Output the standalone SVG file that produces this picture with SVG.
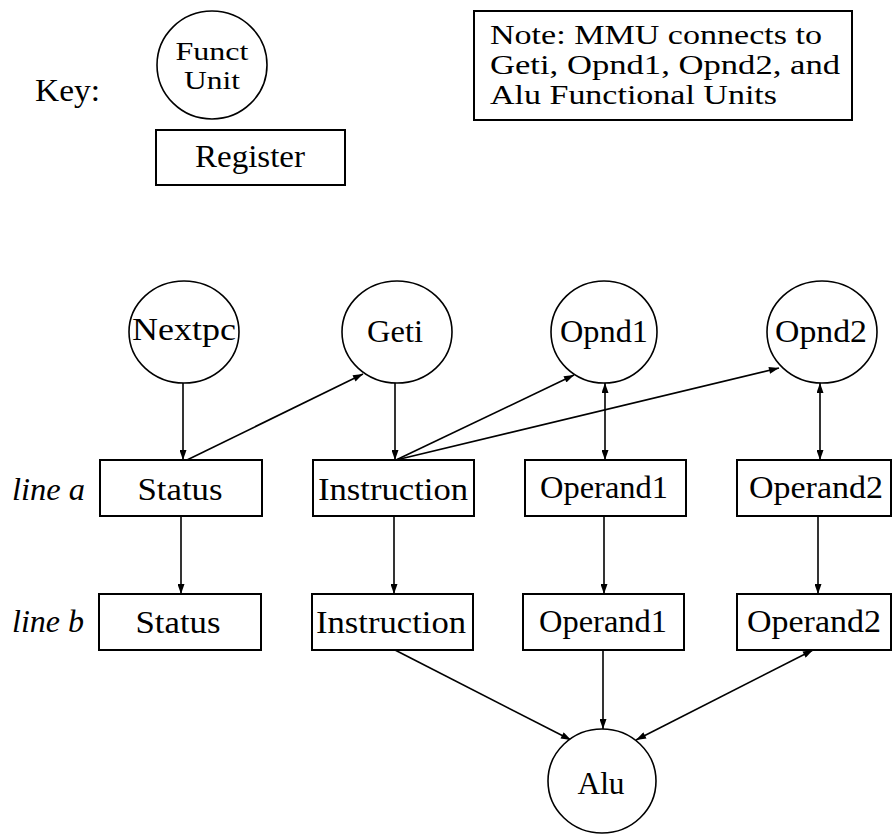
<svg xmlns="http://www.w3.org/2000/svg" width="893" height="835" viewBox="0 0 893 835">
<style>
  text { font-family: "Liberation Serif", "Times New Roman", serif; font-size: 32px; fill: #000; }
  .c { text-anchor: middle; }
  .it { font-style: italic; }
  .sm { font-size: 25px; }
  .nt { font-size: 27px; }
  .box { fill: #fff; stroke: #000; stroke-width: 2; }
  .fu { fill: #fff; stroke: #000; stroke-width: 1.6; }
  .edge { fill: none; stroke: #000; stroke-width: 1.6; }
</style>
<defs>
  <marker id="ah" viewBox="0 0 10 7" refX="10" refY="3.5" markerWidth="11" markerHeight="7" markerUnits="userSpaceOnUse" orient="auto-start-reverse">
    <path d="M0,0 L10,3.5 L0,7 z" fill="#000"/>
  </marker>
</defs>
<rect width="893" height="835" fill="#fff"/>

<g id="key">
  <text x="35" y="101" textLength="65" lengthAdjust="spacingAndGlyphs">Key:</text>
  <g id="key-funct">
    <ellipse class="fu" cx="212" cy="65" rx="55" ry="54"/>
    <text class="c sm" x="212" y="60" textLength="73" lengthAdjust="spacingAndGlyphs">Funct</text>
    <text class="c sm" x="212" y="89" textLength="56" lengthAdjust="spacingAndGlyphs">Unit</text>
  </g>
  <g id="key-register">
    <rect class="box" x="156" y="130" width="189" height="55"/>
    <text class="c" x="250" y="167" textLength="110" lengthAdjust="spacingAndGlyphs">Register</text>
  </g>
</g>

<g id="note">
  <rect class="box" x="474" y="11" width="378" height="109"/>
  <text class="nt" x="490" y="44" textLength="332" lengthAdjust="spacingAndGlyphs">Note: MMU connects to</text>
  <text class="nt" x="490" y="74" textLength="350" lengthAdjust="spacingAndGlyphs">Geti, Opnd1, Opnd2, and</text>
  <text class="nt" x="490" y="104" textLength="287" lengthAdjust="spacingAndGlyphs">Alu Functional Units</text>
</g>

<g id="row-labels">
  <text class="it" x="12" y="500" textLength="73" lengthAdjust="spacingAndGlyphs">line a</text>
  <text class="it" x="12" y="632" textLength="72" lengthAdjust="spacingAndGlyphs">line b</text>
</g>

<g id="connectors">
  <line class="edge" x1="183" y1="383" x2="183" y2="460" marker-end="url(#ah)"/>
  <line class="edge" x1="187" y1="460" x2="363" y2="374" marker-end="url(#ah)"/>
  <line class="edge" x1="395" y1="383" x2="395" y2="460" marker-end="url(#ah)"/>
  <line class="edge" x1="396" y1="460" x2="574" y2="375" marker-end="url(#ah)"/>
  <line class="edge" x1="396" y1="460" x2="779" y2="368" marker-end="url(#ah)"/>
  <line class="edge" x1="605" y1="383" x2="605" y2="460" marker-start="url(#ah)" marker-end="url(#ah)"/>
  <line class="edge" x1="820" y1="383" x2="820" y2="460" marker-start="url(#ah)" marker-end="url(#ah)"/>
  <line class="edge" x1="181" y1="516" x2="181" y2="594" marker-end="url(#ah)"/>
  <line class="edge" x1="394" y1="516" x2="394" y2="594" marker-end="url(#ah)"/>
  <line class="edge" x1="604" y1="516" x2="604" y2="594" marker-end="url(#ah)"/>
  <line class="edge" x1="818" y1="516" x2="818" y2="594" marker-end="url(#ah)"/>
  <line class="edge" x1="395" y1="650" x2="571" y2="740" marker-end="url(#ah)"/>
  <line class="edge" x1="603" y1="650" x2="603" y2="729" marker-end="url(#ah)"/>
  <line class="edge" x1="813" y1="650" x2="636" y2="740" marker-start="url(#ah)" marker-end="url(#ah)"/>
</g>

<g id="nextpc">
  <ellipse class="fu" cx="184" cy="332" rx="55" ry="51"/>
  <text class="c" x="184" y="340" textLength="104" lengthAdjust="spacingAndGlyphs">Nextpc</text>
</g>
<g id="geti">
  <ellipse class="fu" cx="397" cy="332" rx="55" ry="51"/>
  <text class="c" x="395" y="342" textLength="56" lengthAdjust="spacingAndGlyphs">Geti</text>
</g>
<g id="opnd1">
  <ellipse class="fu" cx="604" cy="332" rx="53" ry="51"/>
  <text class="c" x="604" y="342" textLength="88" lengthAdjust="spacingAndGlyphs">Opnd1</text>
</g>
<g id="opnd2">
  <ellipse class="fu" cx="822" cy="332" rx="55" ry="51"/>
  <text class="c" x="821" y="342" textLength="92" lengthAdjust="spacingAndGlyphs">Opnd2</text>
</g>

<g id="status-a">
  <rect class="box" x="100" y="460" width="162" height="56"/>
  <text class="c" x="180" y="500" textLength="85" lengthAdjust="spacingAndGlyphs">Status</text>
</g>
<g id="instruction-a">
  <rect class="box" x="313" y="460" width="161" height="56"/>
  <text class="c" x="393" y="500" textLength="150" lengthAdjust="spacingAndGlyphs">Instruction</text>
</g>
<g id="operand1-a">
  <rect class="box" x="525" y="460" width="161" height="56"/>
  <text class="c" x="604" y="498" textLength="128" lengthAdjust="spacingAndGlyphs">Operand1</text>
</g>
<g id="operand2-a">
  <rect class="box" x="737" y="460" width="154" height="56"/>
  <text class="c" x="816" y="498" textLength="134" lengthAdjust="spacingAndGlyphs">Operand2</text>
</g>

<g id="status-b">
  <rect class="box" x="99" y="594" width="162" height="56"/>
  <text class="c" x="178" y="633" textLength="85" lengthAdjust="spacingAndGlyphs">Status</text>
</g>
<g id="instruction-b">
  <rect class="box" x="312" y="594" width="161" height="56"/>
  <text class="c" x="391" y="633" textLength="150" lengthAdjust="spacingAndGlyphs">Instruction</text>
</g>
<g id="operand1-b">
  <rect class="box" x="523" y="594" width="161" height="56"/>
  <text class="c" x="603" y="632" textLength="128" lengthAdjust="spacingAndGlyphs">Operand1</text>
</g>
<g id="operand2-b">
  <rect class="box" x="737" y="594" width="154" height="56"/>
  <text class="c" x="814" y="632" textLength="134" lengthAdjust="spacingAndGlyphs">Operand2</text>
</g>

<g id="alu">
  <ellipse class="fu" cx="602" cy="781" rx="54" ry="52"/>
  <text class="c" x="601" y="794" textLength="47" lengthAdjust="spacingAndGlyphs">Alu</text>
</g>
</svg>
